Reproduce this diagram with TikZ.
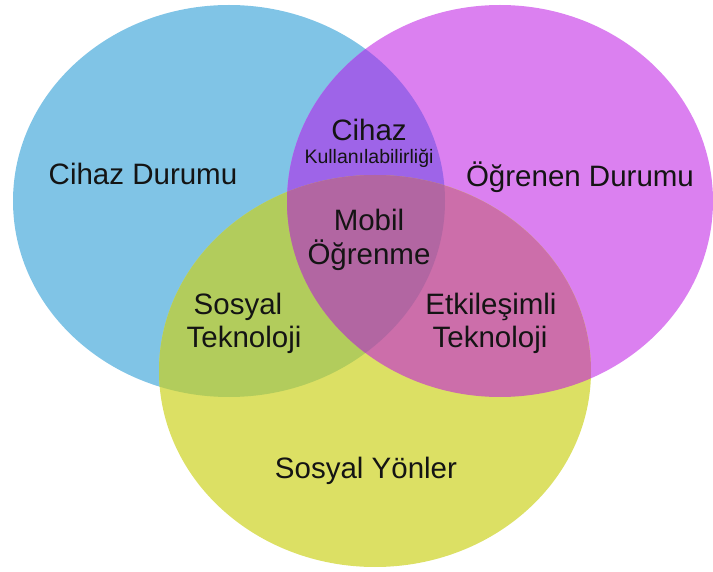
\documentclass[tikz,border=0pt]{standalone}
\usepackage{fontspec}
\setmainfont{Liberation Sans}
\definecolor{cblue}{HTML}{80C4E6}
\definecolor{cmag}{HTML}{DB80F0}
\definecolor{cyel}{HTML}{DCE064}
\definecolor{cbm}{HTML}{9E64E8}
\definecolor{cby}{HTML}{B2CC5C}
\definecolor{cmy}{HTML}{CC6EAA}
\definecolor{call}{HTML}{B266A2}
\definecolor{ctext}{HTML}{141414}
\begin{document}
\begin{tikzpicture}[x=1pt,y=-1pt,
  big/.style={text=ctext,inner sep=0pt,anchor=base,font=\fontsize{29.5}{33}\selectfont},
  small/.style={text=ctext,inner sep=0pt,anchor=base,font=\fontsize{19.5}{22}\selectfont}]
\useasboundingbox (0,0) rectangle (713,572);
\def\blueE{(229,201) ellipse [x radius=216pt, y radius=196pt]}
\def\magE{(500,201) ellipse [x radius=213pt, y radius=196pt]}
\def\yelE{(375,371) ellipse [x radius=216pt, y radius=196pt]}
% circles
\fill[cblue] \blueE;
\fill[cmag] \magE;
\fill[cyel] \yelE;
% pairwise overlaps
\begin{scope}\clip \blueE; \fill[cbm] \magE; \end{scope}
\begin{scope}\clip \blueE; \fill[cby] \yelE; \end{scope}
\begin{scope}\clip \magE; \fill[cmy] \yelE; \end{scope}
% triple overlap
\begin{scope}\clip \blueE; \clip \magE; \fill[call] \yelE; \end{scope}
% labels
\node[big] (cd) at (143,185) {Cihaz Durumu};
\node[big] (od) at (580,187) {Öğrenen Durumu};
\node[big] (ch) at (369,141) {Cihaz};
\node[small] (ku) at (369,164) {Kullanılabilirliği};
\node[big] (mb) at (369,231) {Mobil};
\node[big] (og) at (369,265) {Öğrenme};
\node[big] (so) at (238,315) {Sosyal};
\node[big] (st) at (244,348) {Teknoloji};
\node[big] (et) at (491,315) {Etkileşimli};
\node[big] (it) at (490,348) {Teknoloji};
\node[big] (sy) at (366,478) {Sosyal Yönler};
\end{tikzpicture}
\end{document}
